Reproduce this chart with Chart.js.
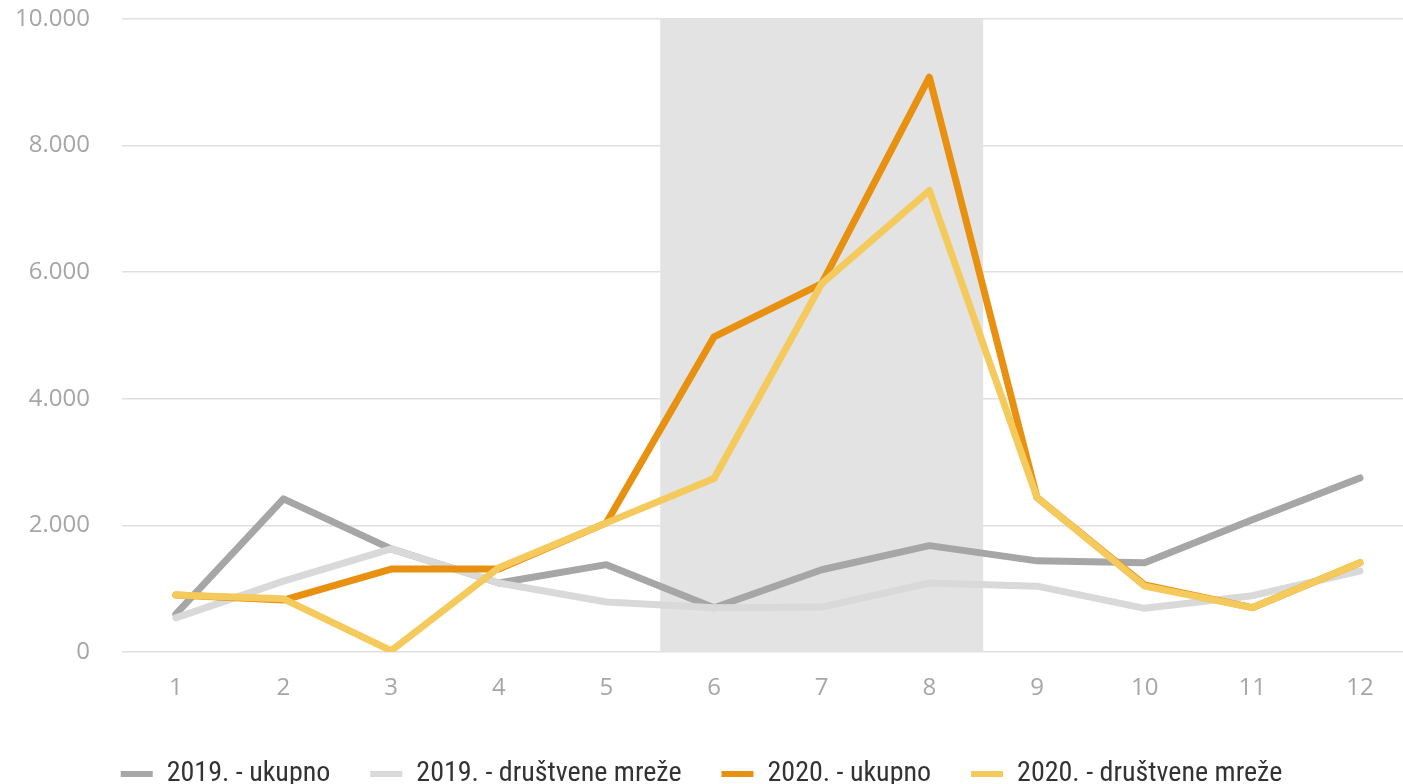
<!DOCTYPE html>
<html>
<head>
<meta charset="utf-8">
<script src="https://cdn.jsdelivr.net/npm/chart.js@4"></script>
<style>
  html, body { margin: 0; padding: 0; background: #fff; }
  #wrap { width: 1403px; height: 784px; }
</style>
</head>
<body>
<div id="wrap"><canvas id="lineChart"></canvas></div>
<script>
// mjeseci
const months = [1, 2, 3, 4, 5, 6, 7, 8, 9, 10, 11, 12];
// vrijednosti po seriji
const ukupno2019 = [600, 2420, 1630, 1090, 1380, 700, 1300, 1680, 1440, 1410, 2090, 2750];
const mreze2019 = [540, 1120, 1630, 1090, 790, 700, 710, 1090, 1040, 690, 890, 1280];
const ukupno2020 = [900, 820, 1310, 1310, 2040, 4980, 5820, 9080, 2440, 1060, 700, 1410];
const mreze2020 = [900, 840, 20, 1330, 2040, 2740, 5820, 7290, 2440, 1040, 700, 1410];
// osjenčano razdoblje (mjeseci)
const shadeFrom = 5.5;
const shadeTo = 8.5;

const pts = arr => arr.map((v, i) => ({ x: months[i], y: v }));

const tickFont = { family: "'Open Sans', 'DejaVu Sans', sans-serif", size: 24, weight: 'normal' };

// siva pozadina za ljetne mjesece
const shadePlugin = {
    id: 'shade',
    beforeDatasetsDraw(chart) {
        const { ctx, chartArea, scales } = chart;
        const x1 = scales.x.getPixelForValue(shadeFrom);
        const x2 = scales.x.getPixelForValue(shadeTo);
        ctx.save();
        ctx.fillStyle = '#e3e3e3';
        ctx.fillRect(x1, chartArea.top, x2 - x1, chartArea.bottom - chartArea.top);
        ctx.restore();
    },
};

const line = (label, data, color, order) => ({
    label: label,
    data: pts(data),
    borderColor: color,
    backgroundColor: color,
    borderWidth: 7,
    pointRadius: 0,
    borderCapStyle: 'round',
    borderJoinStyle: 'round',
    order: order,
    fill: false,
    tension: 0,
});

const ctx = document.getElementById('lineChart').getContext('2d');
const chart = new Chart(ctx, {
    type: 'line',
    data: {
        datasets: [
            line('2019. - ukupno', ukupno2019, '#a6a6a6', 3),
            line('2019. - društvene mreže', mreze2019, '#d9d9d9', 2),
            line('2020. - ukupno', ukupno2020, '#e8900f', 1),
            line('2020. - društvene mreže', mreze2020, '#f5ca5c', 0),
        ],
    },
    plugins: [shadePlugin],
    options: {
        responsive: true,
        maintainAspectRatio: false,
        animation: false,
        layout: { padding: { top: 0, right: 0, left: 0, bottom: -14 } },
        plugins: {
            tooltip: { enabled: false },
            legend: {
                position: 'bottom',
                labels: {
                    boxWidth: 32,
                    boxHeight: 6,
                    padding: 40,
                    color: '#333333',
                    font: { family: "'Roboto Condensed', 'Liberation Sans Narrow', 'Roboto', sans-serif", size: 28 },
                    sort: (a, b) => a.datasetIndex - b.datasetIndex,
                    generateLabels: chart => {
                        const items = Chart.defaults.plugins.legend.labels.generateLabels(chart);
                        items.forEach(it => { it.lineWidth = 0; });
                        return items;
                    },
                },
            },
        },
        scales: {
            x: {
                type: 'linear',
                min: 0.5,
                max: 12.4,
                afterFit: s => { s.height = 68; },
                grid: { display: false, drawTicks: false },
                border: { display: false },
                ticks: {
                    stepSize: 1,
                    includeBounds: false,
                    padding: 22,
                    color: '#a6a6a6',
                    font: tickFont,
                    callback: v => (Number.isInteger(v) ? String(v) : ''),
                },
            },
            y: {
                min: 0,
                max: 10000,
                afterFit: s => { s.width = 122; s.paddingTop = 19; s.paddingBottom = 0; },
                grid: { color: '#e0e0e0', lineWidth: 1.5, drawTicks: false },
                border: { display: false },
                ticks: {
                    stepSize: 2000,
                    padding: 32,
                    color: '#a6a6a6',
                    font: tickFont,
                    callback: v => v.toLocaleString('de-DE'),
                },
            },
        },
    },
});
</script>
</body>
</html>
